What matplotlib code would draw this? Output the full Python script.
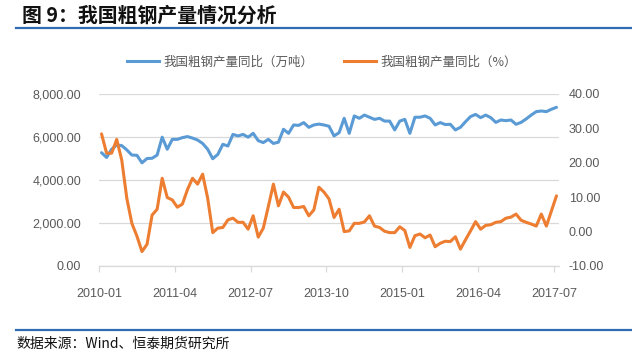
import matplotlib
matplotlib.use("Agg")
import matplotlib.pyplot as plt
from matplotlib.lines import Line2D
from matplotlib.ticker import FuncFormatter, MultipleLocator, FixedLocator
import numpy as np

# ---------------- data ----------------
tick_labels = ["2010-01", "2011-04", "2012-07", "2013-10", "2015-01", "2016-04", "2017-07"]

output_wan_t = [
    5270, 5050, 5430, 5630, 5600, 5400, 5160, 5150, 4800, 5000,
    5010, 5160, 5990, 5430, 5890, 5890, 5970, 6020, 5950, 5860,
    5700, 5430, 4990, 5190, 5660, 5580, 6120, 6050, 6120, 5990,
    6170, 5830, 5740, 5890, 5700, 5760, 6360, 6170, 6560, 6540,
    6670, 6450, 6560, 6600, 6560, 6500, 6050, 6200, 6870, 6170,
    6980, 6870, 7020, 6920, 6820, 6870, 6740, 6740, 6330, 6740,
    6820, 6170, 6920, 6920, 6980, 6870, 6560, 6670, 6580, 6590,
    6330, 6450, 6710, 6950, 7050, 6900, 7020, 6900, 6680, 6790,
    6760, 6790, 6590, 6680, 6840, 7020, 7180, 7210, 7180, 7290,
    7380,
]

yoy_pct = [
    28.4, 22.8, 22.8, 26.8, 20.8, 9.7, 2.4, -1.3, -5.8, -3.7,
    4.8, 6.5, 15.5, 9.9, 9.2, 7.1, 8.0, 12.2, 15.5, 13.8,
    16.7, 9.7, -0.3, 1.0, 1.2, 3.4, 3.9, 2.7, 2.7, 0.7,
    4.6, -1.6, 1.0, 7.3, 13.8, 7.5, 11.5, 10.0, 7.0, 7.0,
    7.3, 4.6, 6.3, 12.9, 11.5, 9.5, 4.1, 6.5, 0.0, 0.2,
    2.4, 2.4, 2.8, 4.6, 1.6, 1.2, 0.1, -0.3, -0.3, 1.4,
    0.3, -4.6, -1.2, -0.7, -1.8, -1.0, -4.4, -3.4, -2.8, -2.9,
    -1.5, -5.1, -2.4, 0.2, 2.9, 0.7, 1.8, 2.0, 2.7, 2.9,
    3.9, 4.2, 5.1, 3.3, 2.7, 2.2, 1.6, 5.1, 1.6, 6.0,
    10.4,
]

series_names = ["我国粗钢产量同比（万吨）", "我国粗钢产量同比（%）"]
title_text = "图 9：我国粗钢产量情况分析"
source_text = "数据来源：Wind、恒泰期货研究所"

# ---------------- style ----------------
BLUE = "#5B9BD5"
ORANGE = "#ED7D31"
GRID = "#D9D9D9"
TXT = "#595959"
RULE = "#2E6DB4"
CJK = ["Noto Sans CJK SC", "DejaVu Sans"]
NUM = ["Liberation Sans", "DejaVu Sans"]

W, H = 632, 357
fig = plt.figure(figsize=(W / 100, H / 100), dpi=100)

L, R, T, B = 99, 559, 94, 266
ax = fig.add_axes([L / W, 1 - B / H, (R - L) / W, (B - T) / H])
ax2 = ax.twinx()

n = len(output_wan_t)
x = np.arange(n)

ax.plot(x, output_wan_t, color=BLUE, lw=2.2, solid_capstyle="round", solid_joinstyle="round", zorder=3)
ax2.plot(x, yoy_pct, color=ORANGE, lw=2.2, solid_capstyle="round", solid_joinstyle="round", zorder=3)

ax.set_xlim(-0.5, n - 0.5)
ax.set_ylim(0, 8000)
ax2.set_ylim(-10, 40)

ax.yaxis.set_major_locator(MultipleLocator(2000))
ax2.yaxis.set_major_locator(MultipleLocator(10))
ax.yaxis.set_major_formatter(FuncFormatter(lambda v, p: f"{v:,.2f}"))
ax2.yaxis.set_major_formatter(FuncFormatter(lambda v, p: f"{v:.2f}"))

tick_pos = [i * 15 - 0.5 for i in range(len(tick_labels))]
ax.xaxis.set_major_locator(FixedLocator(tick_pos))
ax.set_xticklabels(tick_labels)

ax.grid(axis="y", color=GRID, lw=0.9)
ax.set_axisbelow(True)

for a in (ax, ax2):
    for s in ("top", "left", "right", "bottom"):
        a.spines[s].set_visible(False)
ax.spines["bottom"].set_visible(True)
ax.spines["bottom"].set_color(GRID)
ax.spines["bottom"].set_linewidth(0.9)

ax.tick_params(axis="x", colors=GRID, length=4, width=0.9, direction="out", pad=12,
               labelcolor=TXT, labelsize=9)
ax.tick_params(axis="y", length=0, pad=13, labelcolor=TXT, labelsize=9)
ax2.tick_params(axis="y", length=0, pad=7, labelcolor=TXT, labelsize=9)
for lab in ax.get_xticklabels() + ax.get_yticklabels() + ax2.get_yticklabels():
    lab.set_family(NUM)

# legend
handles = [Line2D([], [], color=BLUE, lw=2.2), Line2D([], [], color=ORANGE, lw=2.2)]
leg = fig.legend(handles, series_names, loc="center", bbox_to_anchor=(322 / W, 1 - 62 / H),
                 ncol=2, frameon=False, handlelength=2.6, handletextpad=0.35, columnspacing=2.4,
                 prop={"family": CJK, "size": 9})
for t in leg.get_texts():
    t.set_color(TXT)

# title + rules + source
fig.text(22 / W, 1 - 15 / H, title_text, family=CJK, fontweight="bold", fontsize=14.3,
         color="#111111", ha="left", va="center")
fig.add_artist(Line2D([16 / W, 1.0], [1 - 28 / H] * 2, transform=fig.transFigure, color=RULE, lw=1.6))
fig.add_artist(Line2D([16 / W, 1.0], [1 - 330 / H] * 2, transform=fig.transFigure, color=RULE, lw=1.6))
fig.text(16 / W, 1 - 344 / H, source_text, family=CJK, fontsize=10, color="#111111",
         ha="left", va="center")

fig.savefig("out.png", dpi=100)
